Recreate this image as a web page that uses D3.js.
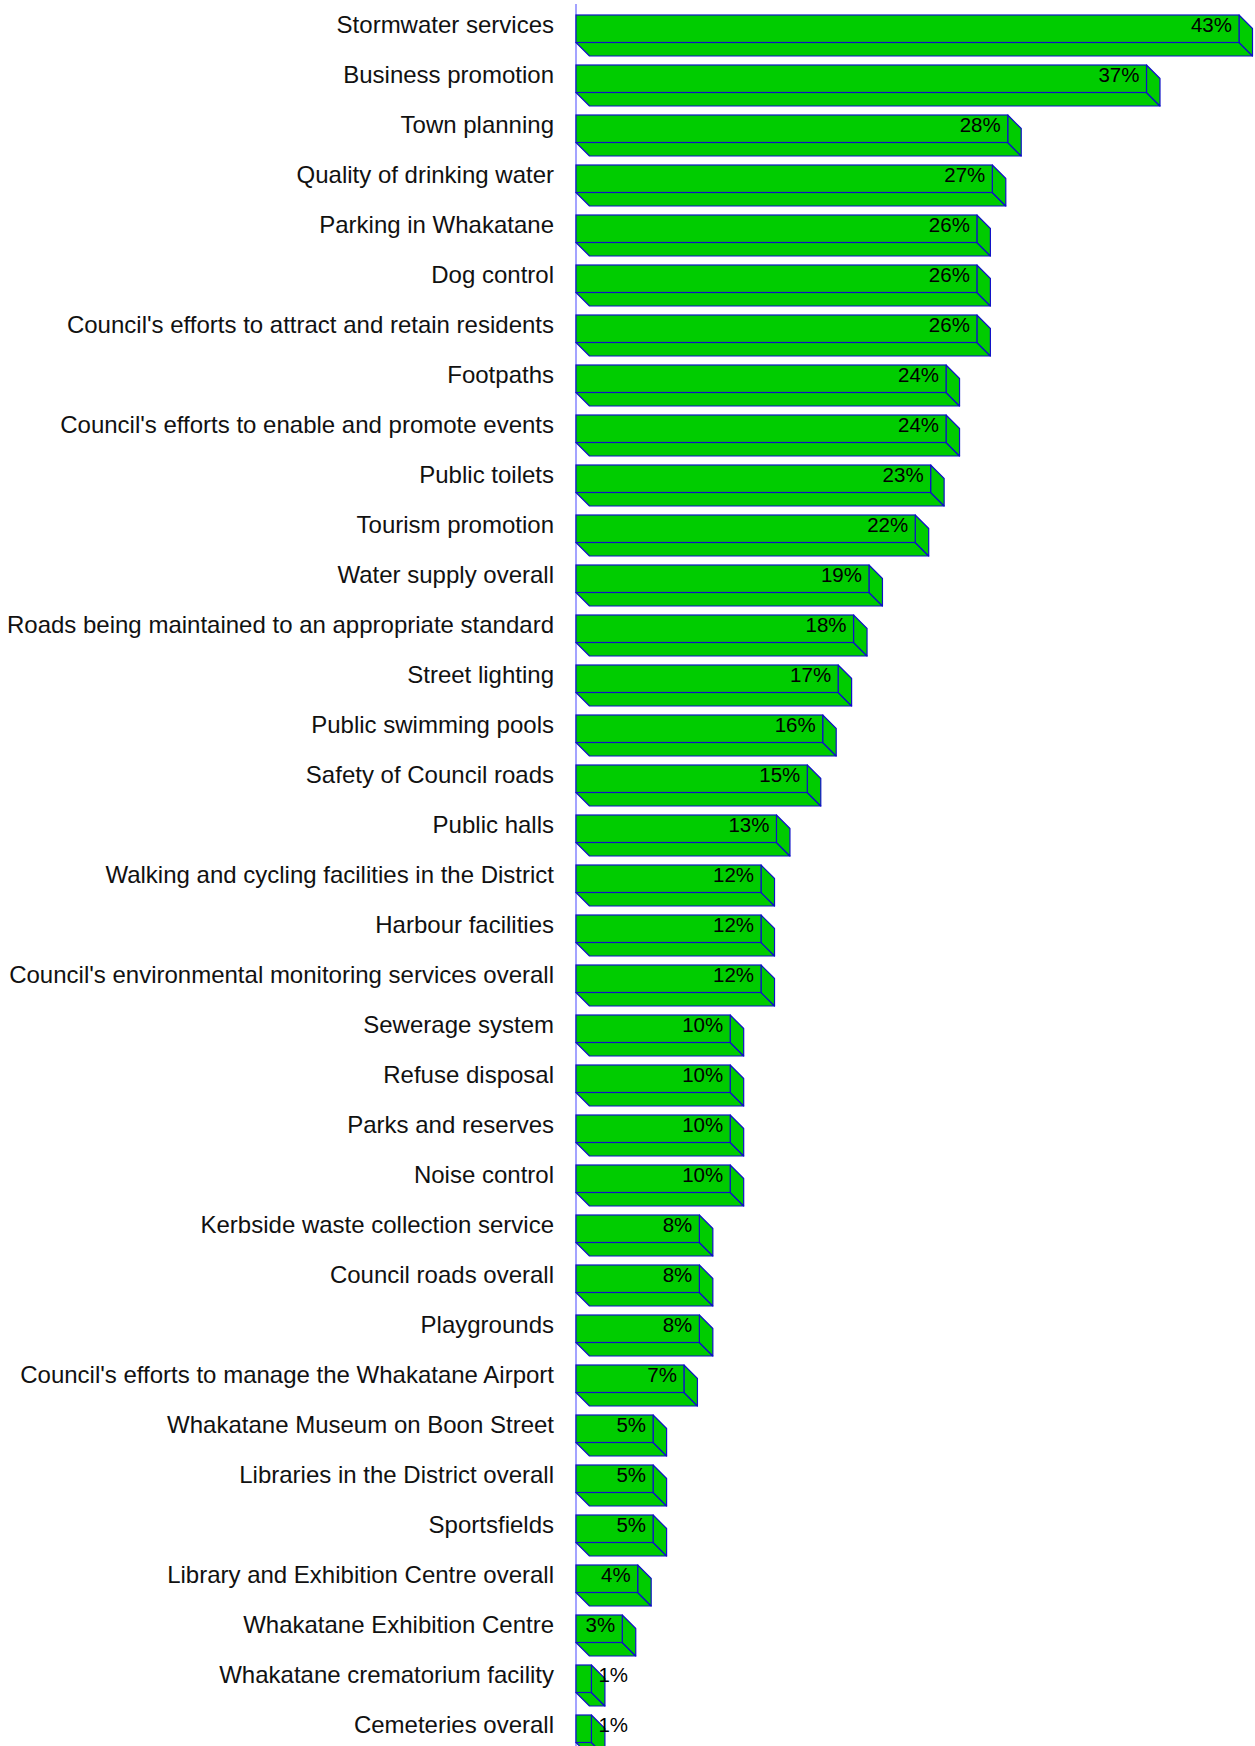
<!DOCTYPE html>
<html>
<head>
<meta charset="utf-8">
<script src="https://cdn.jsdelivr.net/npm/d3@7"></script>
<style>
  html, body { margin: 0; padding: 0; background: #ffffff; }
  svg { display: block; }
</style>
</head>
<body>
<svg id="chart" width="1255" height="1746"></svg>
<script>
const categories = [
  "Stormwater services",
  "Business promotion",
  "Town planning",
  "Quality of drinking water",
  "Parking in Whakatane",
  "Dog control",
  "Council's efforts to attract and retain residents",
  "Footpaths",
  "Council's efforts to enable and promote events",
  "Public toilets",
  "Tourism promotion",
  "Water supply overall",
  "Roads being maintained to an appropriate standard",
  "Street lighting",
  "Public swimming pools",
  "Safety of Council roads",
  "Public halls",
  "Walking and cycling facilities in the District",
  "Harbour facilities",
  "Council's environmental monitoring services overall",
  "Sewerage system",
  "Refuse disposal",
  "Parks and reserves",
  "Noise control",
  "Kerbside waste collection service",
  "Council roads overall",
  "Playgrounds",
  "Council's efforts to manage the Whakatane Airport",
  "Whakatane Museum on Boon Street",
  "Libraries in the District overall",
  "Sportsfields",
  "Library and Exhibition Centre overall",
  "Whakatane Exhibition Centre",
  "Whakatane crematorium facility",
  "Cemeteries overall"
];
const values = [43, 37, 28, 27, 26, 26, 26, 24, 24, 23, 22, 19, 18, 17, 16, 15, 13, 12, 12, 12, 10, 10, 10, 10, 8, 8, 8, 7, 5, 5, 5, 4, 3, 1, 1];

const data = categories.map((c, i) => ({ cat: c, val: values[i] }));

const svg = d3.select("#chart");
const x0 = 576;
const x = d3.scaleLinear().domain([0, 43]).range([x0, 1239]);
const step = 50;
const padIn = 0.45;
const yTop = 15;
const y = d3.scaleBand()
  .domain(categories)
  .range([yTop, yTop + step * (categories.length - padIn)])
  .paddingInner(padIn)
  .paddingOuter(0);
const bw = y.bandwidth();
const depth = 13.5;

const fill = "#00cc00";
const stroke = "#1010c8";

// Axis line
svg.append("line")
  .attr("x1", x0).attr("x2", x0)
  .attr("y1", 4).attr("y2", 1746)
  .attr("stroke", "#8484ff")
  .attr("stroke-width", 1.5);

// Category labels via axis
const axis = d3.axisLeft(y).tickSize(0).tickPadding(22);
const gAxis = svg.append("g")
  .attr("transform", `translate(${x0},0)`)
  .call(axis);
gAxis.select(".domain").remove();
gAxis.selectAll("text")
  .attr("font-family", "'Liberation Sans', Arial, Helvetica, sans-serif")
  .attr("font-size", "24px")
  .attr("fill", "#111")
  .attr("dy", "0.18em");

// Bars
const bars = svg.append("g").selectAll("g.bar").data(data).join("g").attr("class", "bar");

bars.each(function(d) {
  const g = d3.select(this);
  const top = y(d.cat);
  const bot = top + bw;
  const xl = x(0);
  const xr = x(d.val);
  // bottom face
  g.append("path")
    .attr("d", `M${xl},${bot} L${xr},${bot} L${xr + depth},${bot + depth} L${xl + depth},${bot + depth} Z`)
    .attr("fill", fill).attr("stroke", stroke).attr("stroke-width", 1.2).attr("stroke-linejoin", "round");
  // right face
  g.append("path")
    .attr("d", `M${xr},${top} L${xr + depth},${top + depth} L${xr + depth},${bot + depth} L${xr},${bot} Z`)
    .attr("fill", fill).attr("stroke", stroke).attr("stroke-width", 1.2).attr("stroke-linejoin", "round");
  // front face
  g.append("rect")
    .attr("x", xl).attr("y", top)
    .attr("width", xr - xl).attr("height", bw)
    .attr("fill", fill).attr("stroke", stroke).attr("stroke-width", 1.2);
});

// Value labels
bars.append("text")
  .attr("font-family", "'Liberation Sans', Arial, Helvetica, sans-serif")
  .attr("font-size", "20.5px")
  .attr("fill", "#000")
  .text(d => d.val + "%")
  .each(function(d) {
    const t = d3.select(this);
    const w = this.getComputedTextLength();
    const xr = x(d.val);
    const barW = xr - x(0);
    const ty = y(d.cat) + 17.2;
    if (barW > w + 12) {
      t.attr("x", xr - 7).attr("y", ty).attr("text-anchor", "end");
    } else {
      t.attr("x", xr + 7).attr("y", ty).attr("text-anchor", "start");
    }
  });
</script>
</body>
</html>
